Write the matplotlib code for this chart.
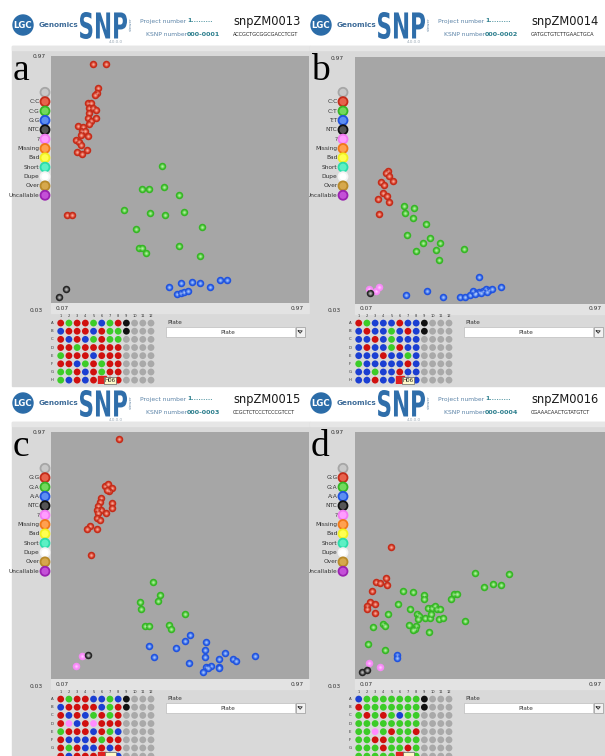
import numpy as np
import matplotlib.pyplot as plt
from matplotlib.patches import Rectangle, Circle, PathPatch
from matplotlib.textpath import TextPath
from matplotlib.font_manager import FontProperties
from matplotlib.transforms import Affine2D

# ---- data (axes 0.07..0.97 / 0.03..0.97) ----
snp_names = ["snpZM0013", "snpZM0014", "snpZM0015", "snpZM0016"]
ksnp_numbers = ["000-0001", "000-0002", "000-0003", "000-0004"]
sequences = ["ACCGCTGCGGCGACCTCGT", "GATGCTGTCTTGAACTGCA",
             "CCGCTCTCCCTCCCGTCCT", "CGAAACAACTGTATGTCT"]
panel_letters = ["a", "b", "c", "d"]
legend_a = ["", "C:C", "C:G", "G:G", "NTC", "?", "Missing", "Bad", "Short", "Dupe", "Over", "Uncallable"]
legend_b = ["", "C:C", "C:T", "T:T", "NTC", "?", "Missing", "Bad", "Short", "Dupe", "Over", "Uncallable"]
legend_c = ["", "G:G", "G:A", "A:A", "NTC", "?", "Missing", "Bad", "Short", "Dupe", "Over", "Uncallable"]
legend_d = legend_c

# panel a
a_red_x = [0.218, 0.261, 0.233, 0.229, 0.224, 0.200, 0.209, 0.203, 0.218, 0.227, 0.202, 0.199, 0.208, 0.227,
           0.201, 0.163, 0.182, 0.177, 0.188, 0.200, 0.175, 0.157, 0.168, 0.175, 0.160, 0.177, 0.195, 0.127, 0.144]
a_red_y = [0.941, 0.938, 0.848, 0.828, 0.823, 0.791, 0.790, 0.771, 0.774, 0.764, 0.752, 0.733, 0.722, 0.735,
           0.711, 0.705, 0.700, 0.684, 0.684, 0.666, 0.670, 0.650, 0.641, 0.633, 0.603, 0.598, 0.612, 0.363, 0.365]
a_green_x = [0.457, 0.388, 0.412, 0.465, 0.517, 0.326, 0.414, 0.468, 0.534, 0.368, 0.598, 0.376, 0.388, 0.400, 0.515, 0.591]
a_green_y = [0.553, 0.462, 0.462, 0.470, 0.440, 0.385, 0.372, 0.365, 0.378, 0.311, 0.319, 0.241, 0.240, 0.219, 0.246, 0.208]
a_blue_x = [0.481, 0.525, 0.561, 0.590, 0.626, 0.659, 0.683, 0.510, 0.522, 0.533, 0.547]
a_blue_y = [0.089, 0.106, 0.110, 0.105, 0.091, 0.118, 0.118, 0.065, 0.067, 0.072, 0.076]
a_ntc_x = [0.122, 0.098]
a_ntc_y = [0.085, 0.053]
a_pink_x, a_pink_y = [], []

# panel b
b_red_x = [0.184, 0.177, 0.187, 0.201, 0.161, 0.170, 0.167, 0.183, 0.151, 0.189, 0.152]
b_red_y = [0.535, 0.527, 0.516, 0.500, 0.495, 0.481, 0.453, 0.440, 0.428, 0.420, 0.372]
b_green_x = [0.240, 0.277, 0.246, 0.273, 0.317, 0.252, 0.330, 0.306, 0.366, 0.282, 0.354, 0.449, 0.364]
b_green_y = [0.402, 0.394, 0.376, 0.358, 0.334, 0.292, 0.281, 0.261, 0.263, 0.230, 0.235, 0.239, 0.197]
b_blue_x = [0.501, 0.581, 0.249, 0.320, 0.378, 0.435, 0.455, 0.470, 0.481, 0.492, 0.504, 0.516, 0.527,
            0.539, 0.548, 0.487, 0.511, 0.531]
b_blue_y = [0.133, 0.093, 0.064, 0.081, 0.058, 0.055, 0.058, 0.064, 0.081, 0.073, 0.077, 0.081, 0.086,
            0.083, 0.088, 0.068, 0.071, 0.077]
b_ntc_x = [0.123]
b_ntc_y = [0.073]
b_pink_x = [0.120, 0.142, 0.155]
b_pink_y = [0.086, 0.078, 0.093]

# panel c
c_red_x = [0.307, 0.260, 0.269, 0.282, 0.273, 0.266, 0.243, 0.240, 0.234, 0.243, 0.229, 0.234, 0.261, 0.282,
           0.284, 0.229, 0.240, 0.205, 0.197, 0.232, 0.208]
c_red_y = [0.942, 0.765, 0.774, 0.757, 0.746, 0.751, 0.720, 0.704, 0.687, 0.675, 0.672, 0.660, 0.663, 0.699,
           0.679, 0.644, 0.637, 0.614, 0.599, 0.599, 0.502]
c_green_x = [0.427, 0.449, 0.443, 0.381, 0.384, 0.399, 0.413, 0.480, 0.490, 0.536]
c_green_y = [0.399, 0.348, 0.328, 0.324, 0.296, 0.231, 0.233, 0.234, 0.219, 0.279]
c_blue_x = [0.413, 0.429, 0.507, 0.539, 0.556, 0.612, 0.606, 0.606, 0.553, 0.611, 0.627, 0.617, 0.599,
            0.655, 0.657, 0.657, 0.677, 0.706, 0.717, 0.780]
c_blue_y = [0.155, 0.113, 0.149, 0.176, 0.196, 0.169, 0.141, 0.113, 0.089, 0.077, 0.081, 0.070, 0.057,
            0.077, 0.072, 0.106, 0.130, 0.106, 0.097, 0.116]
c_ntc_x = [0.200]
c_ntc_y = [0.122]
c_pink_x = [0.179, 0.158]
c_pink_y = [0.117, 0.078]

# panel d
d_red_x = [0.196, 0.142, 0.158, 0.177, 0.180, 0.131, 0.123, 0.139, 0.111, 0.113, 0.141]
d_red_y = [0.532, 0.401, 0.396, 0.414, 0.387, 0.363, 0.324, 0.315, 0.307, 0.297, 0.282]
d_green_x = [0.489, 0.608, 0.520, 0.551, 0.580, 0.237, 0.273, 0.312, 0.310, 0.417, 0.426, 0.404, 0.221,
             0.263, 0.186, 0.324, 0.338, 0.350, 0.357, 0.366, 0.288, 0.294, 0.289, 0.315, 0.331, 0.334,
             0.364, 0.376, 0.454, 0.133, 0.166, 0.173, 0.260, 0.284, 0.278, 0.274, 0.328, 0.114, 0.176]
d_green_y = [0.432, 0.429, 0.380, 0.391, 0.387, 0.366, 0.361, 0.350, 0.333, 0.353, 0.353, 0.335, 0.314,
             0.296, 0.276, 0.301, 0.301, 0.309, 0.295, 0.295, 0.276, 0.270, 0.257, 0.264, 0.264, 0.276,
             0.257, 0.264, 0.249, 0.229, 0.238, 0.231, 0.236, 0.233, 0.219, 0.216, 0.210, 0.165, 0.141]
d_blue_x = [0.215, 0.217]
d_blue_y = [0.120, 0.110]
d_ntc_x = [0.093, 0.112]
d_ntc_y = [0.055, 0.064]
d_pink_x = [0.118, 0.158]
d_pink_y = [0.089, 0.074]

# plate maps, rows A..H, columns 1..12
plate_a = ["RGRRGBGRKggg", "BRRRBRGGKggg", "RBRBGRGGgggg", "RRGRRRRRgggg",
           "GRRRBRRRgggg", "RRBGRGRRgggg", "GGRBRGRRgggg", "GBRBRRRRgggg"]
plate_b = ["RGBBBRBBKggg", "BRBBGBRBKggg", "BBRBGBBBgggg", "BRBBGRBBgggg",
           "BBBRBBGBgggg", "GBBBBBRBgggg", "BBGBBRBBgggg", "BBRBBRBBgggg"]
plate_c = ["RGRRBBGBKggg", "BRRRRBGRKggg", "RBRBGRGRgggg", "RPBRPRRRgggg",
           "GRRRBRGBgggg", "RBBBRGRRgggg", "RGRBBRBRgggg", "RBRRRRGBgggg"]
plate_d = ["BGGGGGGGKggg", "RGGGGGGGKggg", "GRGRGBGGgggg", "GGGGGGGGgggg",
           "GGPGRGGRgggg", "GGRRGGGGgggg", "GGGRGGRGgggg", "GGGGGRGGgggg"]

# ---- styles ----
W, H = 605, 756
pt_fill = {"R": "#e8624c", "G": "#72da5c", "B": "#5d8ef2", "K": "#7a7a7a", "P": "#ff9cff"}
pt_edge = {"R": "#c42c1a", "G": "#36b626", "B": "#2153de", "K": "#262626", "P": "#f58af5"}
plate_col = {"R": "#d0100e", "G": "#3ccc28", "B": "#1b3fd2", "K": "#111111", "g": "#a9a9a9", "P": "#ff8cff"}
leg_fill = ["#c8c8c8", "#e8624c", "#72da5c", "#5d8ef2", "#555555", "#ff9cff", "#ffa050",
            "#ffff50", "#5cf0c4", "#ffffff", "#d6a84c", "#c450d8"]
leg_edge = ["#a6a6a6", "#c42c1a", "#36b626", "#2153de", "#111111", "#f27af2", "#f07818",
            "#f0f020", "#2adcaa", "#f4f4f4", "#b88a2a", "#9a22b0"]

fig = plt.figure(figsize=(W / 100, H / 100), dpi=100)
fig.patch.set_facecolor("white")
bg = fig.add_axes([0, 0, 1, 1])
bg.set_xlim(0, W)
bg.set_ylim(H, 0)
bg.axis("off")


def px_axes(x, y, w, h):
    return fig.add_axes([x / W, 1 - (y + h) / H, w / W, h / H])


def header(ox, oy, name, ksnp, seq):
    bg.add_patch(Circle((ox + 23, oy + 25), 10, color="#2b6ca8"))
    bg.text(ox + 23, oy + 25.5, "LGC", color="white", fontsize=6.2, fontweight="bold",
            ha="center", va="center")
    bg.text(ox + 39, oy + 25, "Genomics", color="#3d6b98", fontsize=5.2, fontweight="bold", va="center")
    tp = TextPath((0, 0), "SNP", size=1, prop=FontProperties(family="DejaVu Sans", weight="bold"))
    bb = tp.get_extents()
    tr = Affine2D().translate(-bb.x0, -bb.y0).scale(47 / bb.width, -27 / bb.height).translate(ox + 80, oy + 39)
    bg.add_patch(PathPatch(tp, transform=tr + bg.transData, color="#2f6eaa", lw=0))
    bg.text(ox + 131, oy + 24, "viewer", rotation=90, fontsize=3, color="#6a8aa8", ha="center", va="center")
    bg.text(ox + 116, oy + 42, "4.0.0.0", fontsize=3, color="#9aa8b4", ha="center", va="center")
    bg.text(ox + 140, oy + 21, "Project number", fontsize=4.3, color="#5c84a8", va="center")
    bg.text(ox + 187, oy + 21, "1.........", fontsize=4.3, color="#2a7d8c", fontweight="bold", va="center")
    bg.text(ox + 146, oy + 34, "KSNP number", fontsize=4.3, color="#5c84a8", va="center")
    bg.text(ox + 187, oy + 34, ksnp, fontsize=4.6, color="#2a7d8c", fontweight="bold", va="center")
    bg.text(ox + 233, oy + 21, name, fontsize=8.3, color="#1a1a1a", va="center")
    bg.text(ox + 233, oy + 35, seq, fontsize=3.6, color="#222222", va="center")


def legend(ox, oy, labels):
    ys = oy + 92.3 + 9.36 * np.arange(len(labels))
    xs = np.full(len(labels), ox + 45.0)
    bg.scatter(xs, ys, s=42, c=leg_fill, edgecolors=leg_edge, linewidths=1.3, zorder=4)
    for yy, lab in zip(ys, labels):
        bg.text(ox + 39.5, yy, lab, fontsize=4.2, color="#333333", ha="right", va="center")


def plate(ox, oy, rows, cut):
    ax = px_axes(ox + 56.6, oy + 319, 98.5, 65.2)
    ax.set_xlim(0.5, 12.5)
    ax.set_ylim(8.5, 0.5)
    ax.axis("off")
    cols, rws, cs = [], [], []
    for r, row in enumerate(rows):
        for c, ch in enumerate(row):
            cols.append(c + 1)
            rws.append(r + 1)
            cs.append(plate_col[ch])
    ax.scatter(cols, rws, s=24, c=cs, linewidths=0, zorder=3)
    for c in range(12):
        ax.text(c + 1, 0.1, str(c + 1), fontsize=2.6, color="#333333", ha="center", va="center", clip_on=False)
    row_labels = "ABCDEFG" if cut else "ABCDEFGH"
    for r, lab in enumerate(row_labels):
        ax.text(-0.05, r + 1, lab, fontsize=2.8, color="#333333", ha="center", va="center", clip_on=False)
    ax.add_patch(Rectangle((5.5, 7.5), 1, 1, color="#e02020", zorder=4))
    if cut:
        ax.add_patch(Rectangle((6.45, 7.45), 1.25, 1.1, fc="#fff8c8", ec="#666666", lw=0.5, zorder=6,
                               clip_on=False))
    else:
        ax.text(7.0, 8.05, "H06", fontsize=4, color="#222222", ha="center", va="center", zorder=6,
                bbox=dict(boxstyle="square,pad=0.15", fc="#fff8c8", ec="#666666", lw=0.5))
    # plate selector
    bg.text(ox + 167, oy + 322, "Plate", fontsize=4.2, color="#333333", va="center")
    bg.add_patch(Rectangle((ox + 166, oy + 327), 129, 9.5, fc="white", ec="#bdbdbd", lw=0.5, zorder=3))
    bg.text(ox + 228, oy + 332, "Plate", fontsize=4.2, color="#333333", ha="center", va="center", zorder=4)
    bg.add_patch(Rectangle((ox + 295.5, oy + 327), 9, 9.5, fc="#f2f2f2", ec="#9a9a9a", lw=0.5, zorder=3))
    bg.plot([ox + 298.2, ox + 302.2, ox + 300.2, ox + 298.2],
            [oy + 330.8, oy + 330.8, oy + 333.2, oy + 330.8], color="#333333", lw=0.6, zorder=4)


def scatter_panel(px, py, clusters):
    ax = px_axes(px, py, 258, 247)
    ax.set_facecolor("#a6a6a6")
    ax.set_xlim(0.07, 0.97)
    ax.set_ylim(0.03, 0.97)
    ax.set_xticks([])
    ax.set_yticks([])
    for s in ax.spines.values():
        s.set_visible(False)
    for key, xs, ys in clusters:
        if len(xs) == 0:
            continue
        ax.scatter(xs, ys, s=18, facecolor=pt_fill[key], edgecolor=pt_edge[key], linewidths=1.15, zorder=3)
        ax.scatter(xs, ys, s=2.2, color="#ffffff", alpha=0.45, linewidths=0, zorder=4)


panels = [
    (0, 0, 51, 56, plate_a, legend_a,
     [("R", a_red_x, a_red_y), ("G", a_green_x, a_green_y), ("B", a_blue_x, a_blue_y),
      ("P", a_pink_x, a_pink_y), ("K", a_ntc_x, a_ntc_y)]),
    (298, 0, 355, 57, plate_b, legend_b,
     [("R", b_red_x, b_red_y), ("G", b_green_x, b_green_y), ("B", b_blue_x, b_blue_y),
      ("P", b_pink_x, b_pink_y), ("K", b_ntc_x, b_ntc_y)]),
    (0, 376, 51, 432, plate_c, legend_c,
     [("R", c_red_x, c_red_y), ("G", c_green_x, c_green_y), ("B", c_blue_x, c_blue_y),
      ("P", c_pink_x, c_pink_y), ("K", c_ntc_x, c_ntc_y)]),
    (298, 376, 355, 432, plate_d, legend_d,
     [("R", d_red_x, d_red_y), ("G", d_green_x, d_green_y), ("B", d_blue_x, d_blue_y),
      ("P", d_pink_x, d_pink_y), ("K", d_ntc_x, d_ntc_y)]),
]

for i, (ox, oy, px, py, pl, leg, clusters) in enumerate(panels):
    left = 12 if ox == 0 else 310
    right = 310 if ox == 0 else W
    bottom = 386 if oy == 0 else H
    bg.add_patch(Rectangle((left, oy + 46), right - left, bottom - oy - 46, color="#d9d9d9", zorder=0))
    bg.add_patch(Rectangle((left, oy + 46), right - left, 4, color="#e6e6e6", zorder=0))
    bg.add_patch(Rectangle((px, py + 247), right - px, 10, color="#e3e3e3", zorder=0))
    header(ox, oy + (2 if oy else 0), snp_names[i], ksnp_numbers[i], sequences[i])
    bg.text(ox + 13, oy + 80, panel_letters[i], fontsize=27, family="Liberation Serif", color="black",
            va="baseline", ha="left")
    bg.text(ox + 33, py + 1, "0.97", fontsize=4.2, color="#333333", va="center")
    bg.text(ox + 30, oy + 310, "0.03", fontsize=4.2, color="#333333", va="center")
    bg.text(px + 5, py + 252, "0.07", fontsize=4.2, color="#333333", va="center")
    bg.text(ox + 304, py + 252, "0.97", fontsize=4.2, color="#333333", va="center", ha="right")
    legend(ox, oy, leg)
    plate(ox, oy, pl, cut=oy > 0)
    scatter_panel(px, py, clusters)

fig.savefig("out.png", dpi=100)
